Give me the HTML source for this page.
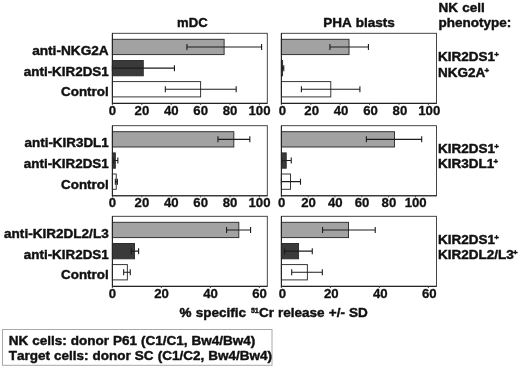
<!DOCTYPE html>
<html><head><meta charset="utf-8"><title>Figure</title>
<style>html,body{margin:0;padding:0;background:#fff}svg{display:block}svg{will-change:transform;filter:grayscale(1)}text{font-family:"Liberation Sans",Arial,Helvetica,sans-serif;font-weight:700;fill:#111;stroke:#111;stroke-width:0.45px;stroke-linejoin:round;font-kerning:none;word-spacing:0.4px;font-feature-settings:"kern" 0,"liga" 0}</style>
</head><body>
<svg width="520" height="368" viewBox="0 0 520 368">
<rect x="0" y="0" width="520" height="368" fill="#fff"/>
<rect x="112.40" y="33.30" width="154.90" height="70.10" fill="#fff" stroke="#333" stroke-width="0.9"/>
<rect x="112.40" y="39.30" width="111.72" height="15.30" fill="#a2a2a2" stroke="#2c2c2c" stroke-width="0.95"/>
<path d="M186.93 46.95H261.61M186.93 43.95V49.95M261.61 43.95V49.95" fill="none" stroke="#1c1c1c" stroke-width="1.1"/>
<rect x="112.40" y="60.50" width="30.87" height="15.30" fill="#3a3a3a" stroke="#2c2c2c" stroke-width="0.95"/>
<path d="M112.40 68.15H174.43M112.40 65.15V71.15M174.43 65.15V71.15" fill="none" stroke="#1c1c1c" stroke-width="1.1"/>
<rect x="112.40" y="81.60" width="88.20" height="15.30" fill="#ffffff" stroke="#2c2c2c" stroke-width="0.95"/>
<path d="M165.32 89.25H236.17M165.32 86.25V92.25M236.17 86.25V92.25" fill="none" stroke="#1c1c1c" stroke-width="1.1"/>
<path d="M112.40 33.30V103.40H267.30" fill="none" stroke="#242424" stroke-width="1.1"/>
<path d="M112.40 103.40v1.6M141.80 103.40v1.6M171.20 103.40v1.6M200.60 103.40v1.6M230.00 103.40v1.6M259.40 103.40v1.6" fill="none" stroke="#333" stroke-width="0.9"/>
<text x="112.50" y="115.40" font-size="13.2" style="stroke-width:0.3px" text-anchor="middle">0</text>
<text x="141.90" y="115.40" font-size="13.2" style="stroke-width:0.3px" text-anchor="middle">20</text>
<text x="171.30" y="115.40" font-size="13.2" style="stroke-width:0.3px" text-anchor="middle">40</text>
<text x="200.70" y="115.40" font-size="13.2" style="stroke-width:0.3px" text-anchor="middle">60</text>
<text x="230.10" y="115.40" font-size="13.2" style="stroke-width:0.3px" text-anchor="middle">80</text>
<text x="259.50" y="115.40" font-size="13.2" style="stroke-width:0.3px" text-anchor="middle">100</text>
<rect x="281.40" y="33.30" width="155.10" height="70.10" fill="#fff" stroke="#333" stroke-width="0.9"/>
<rect x="281.40" y="39.30" width="67.62" height="15.30" fill="#a2a2a2" stroke="#2c2c2c" stroke-width="0.95"/>
<path d="M329.91 46.95H368.42M329.91 43.95V49.95M368.42 43.95V49.95" fill="none" stroke="#1c1c1c" stroke-width="1.1"/>
<rect x="281.40" y="60.50" width="1.18" height="15.30" fill="#3a3a3a" stroke="#2c2c2c" stroke-width="0.95"/>
<path d="M281.99 68.15H283.75M281.99 65.15V71.15M283.75 65.15V71.15" fill="none" stroke="#1c1c1c" stroke-width="1.1"/>
<rect x="281.40" y="81.60" width="49.39" height="15.30" fill="#ffffff" stroke="#2c2c2c" stroke-width="0.95"/>
<path d="M301.39 89.25H359.90M301.39 86.25V92.25M359.90 86.25V92.25" fill="none" stroke="#1c1c1c" stroke-width="1.1"/>
<path d="M281.40 33.30V103.40H436.50" fill="none" stroke="#242424" stroke-width="1.1"/>
<path d="M281.40 103.40v1.6M310.80 103.40v1.6M340.20 103.40v1.6M369.60 103.40v1.6M399.00 103.40v1.6M428.40 103.40v1.6" fill="none" stroke="#333" stroke-width="0.9"/>
<text x="282.30" y="115.40" font-size="13.2" style="stroke-width:0.3px" text-anchor="middle">0</text>
<text x="311.70" y="115.40" font-size="13.2" style="stroke-width:0.3px" text-anchor="middle">20</text>
<text x="341.10" y="115.40" font-size="13.2" style="stroke-width:0.3px" text-anchor="middle">40</text>
<text x="370.50" y="115.40" font-size="13.2" style="stroke-width:0.3px" text-anchor="middle">60</text>
<text x="399.90" y="115.40" font-size="13.2" style="stroke-width:0.3px" text-anchor="middle">80</text>
<text x="429.30" y="115.40" font-size="13.2" style="stroke-width:0.3px" text-anchor="middle">100</text>
<text x="108.7" y="55.00" font-size="13.65" text-anchor="end">anti-NKG2A</text>
<text x="108.7" y="75.90" font-size="13.4" text-anchor="end">anti-KIR2DS1</text>
<text x="108.7" y="96.40" font-size="13.4" text-anchor="end">Control</text>
<text x="438.0" y="61.30" font-size="13.5">KIR2DS1<tspan font-size="8" dy="-4.1" dx="-0.7">+</tspan></text>
<text x="438.0" y="76.60" font-size="13.5">NKG2A<tspan font-size="8" dy="-4.1" dx="-0.7">+</tspan></text>
<rect x="112.40" y="125.70" width="154.90" height="70.10" fill="#fff" stroke="#333" stroke-width="0.9"/>
<rect x="112.40" y="131.70" width="121.42" height="15.30" fill="#a2a2a2" stroke="#2c2c2c" stroke-width="0.95"/>
<path d="M217.95 139.35H249.84M217.95 136.35V142.35M249.84 136.35V142.35" fill="none" stroke="#1c1c1c" stroke-width="1.1"/>
<rect x="112.40" y="152.90" width="2.94" height="15.30" fill="#3a3a3a" stroke="#2c2c2c" stroke-width="0.95"/>
<path d="M113.87 160.55H117.84M113.87 157.55V163.55M117.84 157.55V163.55" fill="none" stroke="#1c1c1c" stroke-width="1.1"/>
<rect x="112.40" y="174.00" width="3.82" height="15.30" fill="#ffffff" stroke="#2c2c2c" stroke-width="0.95"/>
<path d="M115.34 181.65H117.40M115.34 178.65V184.65M117.40 178.65V184.65" fill="none" stroke="#1c1c1c" stroke-width="1.1"/>
<path d="M112.40 125.70V195.80H267.30" fill="none" stroke="#242424" stroke-width="1.1"/>
<path d="M112.40 195.80v1.6M141.80 195.80v1.6M171.20 195.80v1.6M200.60 195.80v1.6M230.00 195.80v1.6M259.40 195.80v1.6" fill="none" stroke="#333" stroke-width="0.9"/>
<text x="112.50" y="207.10" font-size="13.2" style="stroke-width:0.3px" text-anchor="middle">0</text>
<text x="141.90" y="207.10" font-size="13.2" style="stroke-width:0.3px" text-anchor="middle">20</text>
<text x="171.30" y="207.10" font-size="13.2" style="stroke-width:0.3px" text-anchor="middle">40</text>
<text x="200.70" y="207.10" font-size="13.2" style="stroke-width:0.3px" text-anchor="middle">60</text>
<text x="230.10" y="207.10" font-size="13.2" style="stroke-width:0.3px" text-anchor="middle">80</text>
<text x="259.50" y="207.10" font-size="13.2" style="stroke-width:0.3px" text-anchor="middle">100</text>
<rect x="281.40" y="125.70" width="155.10" height="70.10" fill="#fff" stroke="#333" stroke-width="0.9"/>
<rect x="281.40" y="131.70" width="113.10" height="15.30" fill="#a2a2a2" stroke="#2c2c2c" stroke-width="0.95"/>
<path d="M366.36 139.35H421.70M366.36 136.35V142.35M421.70 136.35V142.35" fill="none" stroke="#1c1c1c" stroke-width="1.1"/>
<rect x="281.40" y="152.90" width="4.82" height="15.30" fill="#3a3a3a" stroke="#2c2c2c" stroke-width="0.95"/>
<path d="M281.80 160.55H291.25M281.80 157.55V163.55M291.25 157.55V163.55" fill="none" stroke="#1c1c1c" stroke-width="1.1"/>
<rect x="281.40" y="174.00" width="9.11" height="15.30" fill="#ffffff" stroke="#2c2c2c" stroke-width="0.95"/>
<path d="M281.40 181.65H300.50M281.40 178.65V184.65M300.50 178.65V184.65" fill="none" stroke="#1c1c1c" stroke-width="1.1"/>
<path d="M281.40 125.70V195.80H436.50" fill="none" stroke="#242424" stroke-width="1.1"/>
<path d="M281.40 195.80v1.6M308.20 195.80v1.6M335.00 195.80v1.6M361.80 195.80v1.6M388.60 195.80v1.6M415.40 195.80v1.6" fill="none" stroke="#333" stroke-width="0.9"/>
<text x="281.70" y="207.10" font-size="13.2" style="stroke-width:0.3px" text-anchor="middle">0</text>
<text x="308.50" y="207.10" font-size="13.2" style="stroke-width:0.3px" text-anchor="middle">20</text>
<text x="335.30" y="207.10" font-size="13.2" style="stroke-width:0.3px" text-anchor="middle">40</text>
<text x="362.10" y="207.10" font-size="13.2" style="stroke-width:0.3px" text-anchor="middle">60</text>
<text x="388.90" y="207.10" font-size="13.2" style="stroke-width:0.3px" text-anchor="middle">80</text>
<text x="415.70" y="207.10" font-size="13.2" style="stroke-width:0.3px" text-anchor="middle">100</text>
<text x="108.7" y="147.40" font-size="13.4" text-anchor="end">anti-KIR3DL1</text>
<text x="108.7" y="168.30" font-size="13.4" text-anchor="end">anti-KIR2DS1</text>
<text x="108.7" y="188.80" font-size="13.4" text-anchor="end">Control</text>
<text x="438.0" y="153.00" font-size="13.5">KIR2DS1<tspan font-size="8" dy="-4.1" dx="-0.7">+</tspan></text>
<text x="438.0" y="168.30" font-size="13.5">KIR3DL1<tspan font-size="8" dy="-4.1" dx="-0.7">+</tspan></text>
<rect x="112.40" y="216.30" width="154.90" height="70.10" fill="#fff" stroke="#333" stroke-width="0.9"/>
<rect x="112.40" y="222.30" width="126.42" height="15.30" fill="#a2a2a2" stroke="#2c2c2c" stroke-width="0.95"/>
<path d="M226.57 229.95H250.58M226.57 226.95V232.95M250.58 226.95V232.95" fill="none" stroke="#1c1c1c" stroke-width="1.1"/>
<rect x="112.40" y="243.50" width="22.05" height="15.30" fill="#3a3a3a" stroke="#2c2c2c" stroke-width="0.95"/>
<path d="M131.27 251.15H138.62M131.27 248.15V254.15M138.62 248.15V254.15" fill="none" stroke="#1c1c1c" stroke-width="1.1"/>
<rect x="112.40" y="264.60" width="14.95" height="15.30" fill="#ffffff" stroke="#2c2c2c" stroke-width="0.95"/>
<path d="M123.67 272.25H130.28M123.67 269.25V275.25M130.28 269.25V275.25" fill="none" stroke="#1c1c1c" stroke-width="1.1"/>
<path d="M112.40 216.30V286.40H267.30" fill="none" stroke="#242424" stroke-width="1.1"/>
<path d="M112.40 286.40v1.6M161.40 286.40v1.6M210.40 286.40v1.6M259.40 286.40v1.6" fill="none" stroke="#333" stroke-width="0.9"/>
<text x="112.50" y="298.10" font-size="13.2" style="stroke-width:0.3px" text-anchor="middle">0</text>
<text x="161.50" y="298.10" font-size="13.2" style="stroke-width:0.3px" text-anchor="middle">20</text>
<text x="210.50" y="298.10" font-size="13.2" style="stroke-width:0.3px" text-anchor="middle">40</text>
<text x="259.50" y="298.10" font-size="13.2" style="stroke-width:0.3px" text-anchor="middle">60</text>
<rect x="281.40" y="216.30" width="155.10" height="70.10" fill="#fff" stroke="#333" stroke-width="0.9"/>
<rect x="281.40" y="222.30" width="67.13" height="15.30" fill="#a2a2a2" stroke="#2c2c2c" stroke-width="0.95"/>
<path d="M322.56 229.95H375.23M322.56 226.95V232.95M375.23 226.95V232.95" fill="none" stroke="#1c1c1c" stroke-width="1.1"/>
<rect x="281.40" y="243.50" width="17.15" height="15.30" fill="#3a3a3a" stroke="#2c2c2c" stroke-width="0.95"/>
<path d="M284.58 251.15H312.27M284.58 248.15V254.15M312.27 248.15V254.15" fill="none" stroke="#1c1c1c" stroke-width="1.1"/>
<rect x="281.40" y="264.60" width="25.97" height="15.30" fill="#ffffff" stroke="#2c2c2c" stroke-width="0.95"/>
<path d="M291.69 272.25H322.31M291.69 269.25V275.25M322.31 269.25V275.25" fill="none" stroke="#1c1c1c" stroke-width="1.1"/>
<path d="M281.40 216.30V286.40H436.50" fill="none" stroke="#242424" stroke-width="1.1"/>
<path d="M281.40 286.40v1.6M330.40 286.40v1.6M379.40 286.40v1.6M428.40 286.40v1.6" fill="none" stroke="#333" stroke-width="0.9"/>
<text x="282.30" y="298.10" font-size="13.2" style="stroke-width:0.3px" text-anchor="middle">0</text>
<text x="331.30" y="298.10" font-size="13.2" style="stroke-width:0.3px" text-anchor="middle">20</text>
<text x="380.30" y="298.10" font-size="13.2" style="stroke-width:0.3px" text-anchor="middle">40</text>
<text x="429.30" y="298.10" font-size="13.2" style="stroke-width:0.3px" text-anchor="middle">60</text>
<text x="108.7" y="238.00" font-size="13.55" text-anchor="end">anti-KIR2DL2/L3</text>
<text x="108.7" y="258.90" font-size="13.4" text-anchor="end">anti-KIR2DS1</text>
<text x="108.7" y="279.40" font-size="13.4" text-anchor="end">Control</text>
<text x="438.0" y="243.80" font-size="13.5">KIR2DS1<tspan font-size="8" dy="-4.1" dx="-0.7">+</tspan></text>
<text x="438.0" y="259.10" font-size="13.5">KIR2DL2/L3<tspan font-size="8" dy="-4.1" dx="-0.7">+</tspan></text>
<text x="192.4" y="27.2" font-size="13.1" text-anchor="middle">mDC</text>
<text x="359.0" y="27.2" font-size="13.5" text-anchor="middle">PHA blasts</text>
<text x="438.6" y="11.8" font-size="13.5">NK cell</text>
<text x="438.6" y="27.2" font-size="13.5">phenotype:</text>
<text x="179.5" y="316.8" font-size="13.5">% specific</text>
<text x="250.9" y="313.2" font-size="7">51</text>
<text x="367.8" y="316.8" font-size="13.5" text-anchor="end">Cr release +/- SD</text>
<rect x="2.5" y="329.5" width="269.5" height="35.8" fill="#fff" stroke="#a8a8a8" stroke-width="1"/>
<text x="8.7" y="344.8" font-size="13.5" style="word-spacing:0.25px">NK cells: donor P61 (C1/C1, Bw4/Bw4)</text>
<text x="8.7" y="360.3" font-size="13.5" style="word-spacing:0.3px">Target cells: donor SC (C1/C2, Bw4/Bw4)</text>
</svg></body></html>
